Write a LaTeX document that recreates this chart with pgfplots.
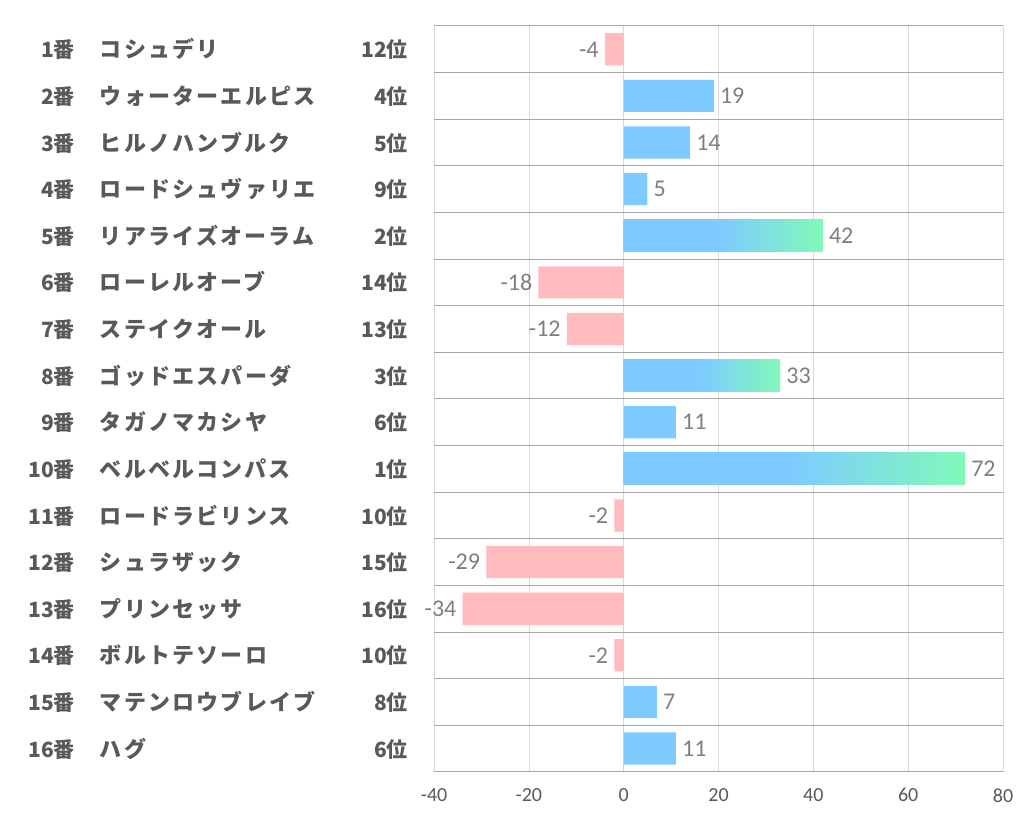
\documentclass[border=0pt]{standalone}
\usepackage{pgfplots}
\pgfplotsset{compat=1.18}
\usepackage{fontspec}
\setmainfont{Carlito}
\newfontfamily\jp{Noto Sans CJK JP}
\newfontfamily\jpn{Noto Sans CJK JP}[LetterSpace=10]
\definecolor{lbl}{HTML}{595959}
\definecolor{dlbl}{HTML}{7F7F7F}
\definecolor{cb}{HTML}{7ECCFF}
\definecolor{cg}{HTML}{80FAB8}
\definecolor{cp}{HTML}{FFBBBD}
\pgfdeclarehorizontalshading{barshade}{100bp}{color(0bp)=(cb); color(50bp)=(cb); color(75bp)=(cg); color(100bp)=(cg)}
\newcommand\lab[3]{\makebox[75pt][r]{#1番}\hspace{25pt}\makebox[200pt][l]{{\jpn\bfseries\fontsize{22}{22}\selectfont #2}}\makebox[108pt][r]{#3}}
\begin{document}
\begin{tikzpicture}
\begin{axis}[
  width=569pt, height=746pt, scale only axis,
  xmin=-40, xmax=80, ymin=0.5, ymax=16.5, y dir=reverse,
  axis line style={draw=none},
  xtick={-40,-20,...,80}, xmajorgrids,
  major grid style={color=black!15, line width=0.8pt},
  ytick={1,...,16},
  yticklabels={
    {\lab{1}{コシュデリ}{12位}},
    {\lab{2}{ウォーターエルピス}{4位}},
    {\lab{3}{ヒルノハンブルク}{5位}},
    {\lab{4}{ロードシュヴァリエ}{9位}},
    {\lab{5}{リアライズオーラム}{2位}},
    {\lab{6}{ローレルオーブ}{14位}},
    {\lab{7}{ステイクオール}{13位}},
    {\lab{8}{ゴッドエスパーダ}{3位}},
    {\lab{9}{タガノマカシヤ}{6位}},
    {\lab{10}{ベルベルコンパス}{1位}},
    {\lab{11}{ロードラビリンス}{10位}},
    {\lab{12}{シュラザック}{15位}},
    {\lab{13}{プリンセッサ}{16位}},
    {\lab{14}{ボルトテソーロ}{10位}},
    {\lab{15}{マテンロウブレイブ}{8位}},
    {\lab{16}{ハグ}{6位}}},
  minor ytick={0.5,1.5,...,16.5}, yminorgrids,
  minor grid style={color=black!35, line width=1pt},
  major tick length=0pt, minor tick length=0pt,
  xticklabel style={font=\fontsize{20}{20}\selectfont, text=lbl, yshift=-13pt},
  yticklabel style={font=\jp\bfseries\fontsize{21}{21}\selectfont, text=lbl, inner sep=0pt, xshift=-26pt},
  /pgf/number format/assume math mode=true,
  xbar, bar shift=0pt, bar width=0.69,
  point meta=x,
  nodes near coords,
  every node near coord/.append style={font=\fontsize{24}{24}\selectfont, text=dlbl, inner sep=6pt},
  clip=false,
]
% negative
\addplot[xbar, fill=cp, draw=none, nodes near coords align={left}] coordinates {
  (-4,1) (-18,6) (-12,7) (-2,11) (-29,12) (-34,13) (-2,14)};
% positive plain
\addplot[xbar, fill=cb, draw=none, nodes near coords align={right}] coordinates {
  (19,2) (14,3) (5,4) (11,9) (7,15) (11,16)};
% positive gradient, one plot per bar
\addplot[xbar, shade, shading=barshade, draw=none, nodes near coords align={right}] coordinates {(42,5)};
\addplot[xbar, shade, shading=barshade, draw=none, nodes near coords align={right}] coordinates {(33,8)};
\addplot[xbar, shade, shading=barshade, draw=none, nodes near coords align={right}] coordinates {(72,10)};
\end{axis}
\path (current axis.south west) ++(-434pt,-62pt);
\path (current axis.north east) ++(19pt,26pt);
\end{tikzpicture}
\end{document}
